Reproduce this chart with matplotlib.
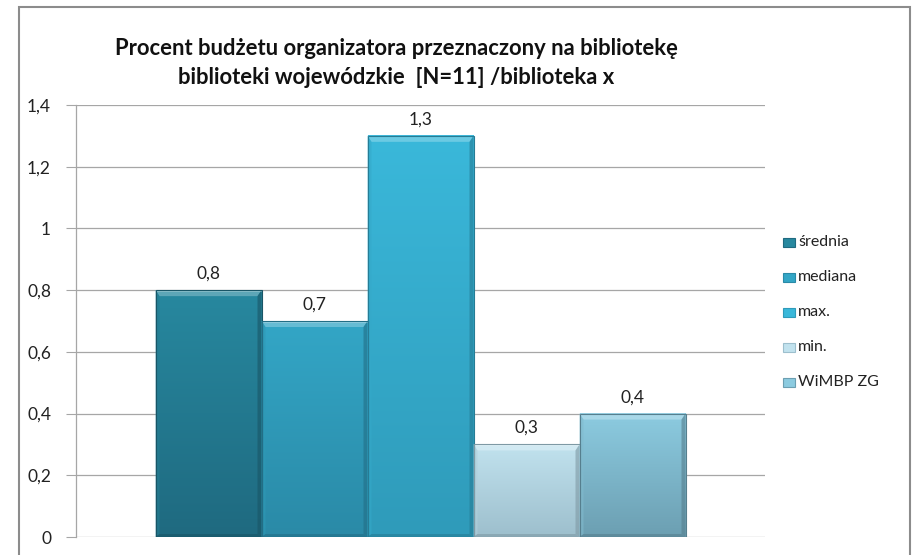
import matplotlib
matplotlib.use("Agg")
import matplotlib.pyplot as plt
import numpy as np
from matplotlib.patches import Polygon, Rectangle
from matplotlib.colors import to_rgb

plt.rcParams['font.family'] = ['Lato', 'DejaVu Sans']

title = "Procent budżetu organizatora przeznaczony na bibliotekę\nbiblioteki wojewódzkie  [N=11] /biblioteka x"
series = ["średnia", "mediana", "max.", "min.", "WiMBP ZG"]
values = [0.8, 0.7, 1.3, 0.3, 0.4]
labels = ["0,8", "0,7", "1,3", "0,3", "0,4"]
top_colors = ["#27889f", "#33a6c6", "#3ab8da", "#c1e2ee", "#8ccbe0"]
bot_colors = ["#1f6a80", "#2a8aa7", "#2f9bba", "#9dbfcd", "#6c9fb2"]
yticks = [0, 0.2, 0.4, 0.6, 0.8, 1.0, 1.2, 1.4]
ytick_labels = ["0", "0,2", "0,4", "0,6", "0,8", "1", "1,2", "1,4"]

W, H = 915, 555
fig = plt.figure(figsize=(W / 100, H / 100), dpi=100)
fig.patch.set_facecolor("white")

# outer border
fig.add_artist(Rectangle((19 / W, -0.01), (910 - 19) / W, (H - 7) / H + 0.01,
                         transform=fig.transFigure, fill=False,
                         edgecolor="#8c8c8c", linewidth=1.5))

ax_l, ax_r, ax_b, ax_t = 76, 765, 537, 105
ax = fig.add_axes([ax_l / W, (H - ax_b) / H, (ax_r - ax_l) / W, (ax_b - ax_t) / H])
ax.set_xlim(-0.5, 0.5)
ax.set_ylim(0, 1.4)

px_x = 1.0 / (ax_r - ax_l)
px_y = 1.4 / (ax_b - ax_t)

bw = 106 / (ax_r - ax_l)
n = len(values)
for i, (v, tc, bc) in enumerate(zip(values, top_colors, bot_colors)):
    x0 = (i - (n - 1) / 2) * bw - bw / 2
    x1 = x0 + bw
    t = np.array(to_rgb(tc))
    b = np.array(to_rgb(bc))
    grad = np.linspace(0, 1, 64)[:, None]
    img = (t[None, :] * (1 - grad) + b[None, :] * grad)[:, None, :]
    ax.imshow(img, extent=(x0, x1, 0, v), aspect="auto", origin="upper", zorder=2,
              interpolation="bilinear")
    bx = 4 * px_x
    by = 6 * px_y
    light = np.clip(t + 0.25 * (1 - t), 0, 1)
    lighter = np.clip(t + 0.45 * (1 - t), 0, 1)
    dark = b * 0.8
    # top bevel
    ax.add_patch(Polygon([[x0, v], [x1, v], [x1 - bx, v - by], [x0 + bx, v - by]],
                         closed=True, facecolor=light, edgecolor="none", zorder=3))
    ax.add_patch(Polygon([[x0, v], [x1, v], [x1, v - 1.5 * px_y], [x0, v - 1.5 * px_y]],
                         closed=True, facecolor=lighter, edgecolor="none", zorder=3))
    # side bevels
    ax.add_patch(Polygon([[x0, v], [x0 + bx, v - by], [x0 + bx, by * 0.5], [x0, 0]],
                         closed=True, facecolor=t * 0.92, edgecolor="none", zorder=3, alpha=0.6))
    ax.add_patch(Polygon([[x1, v], [x1 - bx, v - by], [x1 - bx, by * 0.5], [x1, 0]],
                         closed=True, facecolor=dark, edgecolor="none", zorder=3, alpha=0.6))
    ax.add_patch(Polygon([[x0, 0], [x1, 0], [x1 - bx, by * 0.5], [x0 + bx, by * 0.5]],
                         closed=True, facecolor=dark, edgecolor="none", zorder=3, alpha=0.6))
    ax.add_patch(Rectangle((x0, 0), bw, v, fill=False, edgecolor=dark, linewidth=0.8, zorder=4))
    ax.annotate(labels[i], xy=((x0 + x1) / 2, v), xytext=(0, 6), textcoords="offset points",
                ha="center", va="bottom", fontsize=12.5, color="#222222", zorder=5)

ax.set_yticks(yticks)
ax.set_yticklabels(ytick_labels, fontsize=12.5, color="#222222")
ax.set_xticks([])
ax.yaxis.grid(True, color="#a6a6a6", linewidth=0.9, zorder=0)
ax.set_axisbelow(True)
for s in ["top", "right", "bottom"]:
    ax.spines[s].set_visible(False)
ax.spines["left"].set_color("#a6a6a6")
ax.spines["left"].set_linewidth(0.9)
ax.tick_params(axis="y", length=7, color="#a6a6a6", pad=11)

fig.text(396 / W, 1 - 63 / H, title, ha="center", va="center", fontsize=15.8,
         fontweight="bold", color="#111111", linespacing=1.43)

# legend
for i, (name, tc, bc) in enumerate(zip(series, top_colors, bot_colors)):
    y = 242 + i * 35
    fig.add_artist(Rectangle((783 / W, 1 - (y + 4.5) / H), 12 / W, 9 / H,
                             transform=fig.transFigure, facecolor=tc,
                             edgecolor=bc, linewidth=0.8))
    fig.text(798 / W, 1 - y / H, name, ha="left", va="center", fontsize=11.5, color="#222222")

fig.savefig("out.png", dpi=100, facecolor="white")
